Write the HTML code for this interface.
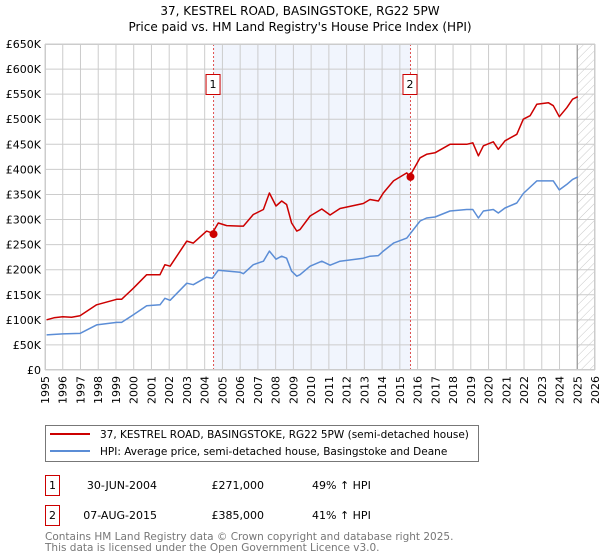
<!DOCTYPE html>
<html><head><meta charset="utf-8"><style>
body{margin:0;background:#fff;}
svg{display:block;font-family:"DejaVu Sans","Liberation Sans",sans-serif;}
</style></head><body>
<svg id="chart" width="600" height="560" viewBox="0 0 600 560">
<defs>
<pattern id="hatch" width="6" height="6" patternUnits="userSpaceOnUse" patternTransform="rotate(45)">
<line x1="0" y1="0" x2="0" y2="6" stroke="#c8c8c8" stroke-width="1"/>
</pattern>
</defs>
<text x="300" y="15" text-anchor="middle" font-size="12" fill="#000">37, KESTREL ROAD, BASINGSTOKE, RG22 5PW</text>
<text x="300" y="31" text-anchor="middle" font-size="12" fill="#000">Price paid vs. HM Land Registry's House Price Index (HPI)</text>
<g id="plot"></g>
<g>
<rect x="45.5" y="425.5" width="433" height="36" fill="#fff" stroke="#777"/>
<line x1="50" y1="434" x2="90" y2="434" stroke="#cc0000" stroke-width="2"/>
<text x="100" y="438" font-size="10.5">37, KESTREL ROAD, BASINGSTOKE, RG22 5PW (semi-detached house)</text>
<line x1="50" y1="451" x2="90" y2="451" stroke="#5b8dd6" stroke-width="2"/>
<text x="100" y="455" font-size="10.5">HPI: Average price, semi-detached house, Basingstoke and Deane</text>
</g>
<g font-size="11">
<rect x="45.5" y="475.5" width="14" height="20" fill="#fff" stroke="#cc0000"/>
<text x="52.5" y="489" text-anchor="middle">1</text>
<text x="157" y="489" text-anchor="end">30-JUN-2004</text>
<text x="264" y="489" text-anchor="end">£271,000</text>
<text x="312" y="489">49% ↑ HPI</text>
<rect x="45.5" y="505.5" width="14" height="20" fill="#fff" stroke="#cc0000"/>
<text x="52.5" y="519" text-anchor="middle">2</text>
<text x="157" y="519" text-anchor="end">07-AUG-2015</text>
<text x="264" y="519" text-anchor="end">£385,000</text>
<text x="312" y="519">41% ↑ HPI</text>
</g>
<text x="45" y="540" font-size="10.5" fill="#777">Contains HM Land Registry data © Crown copyright and database right 2025.</text>
<text x="45" y="551" font-size="10.5" fill="#777">This data is licensed under the Open Government Licence v3.0.</text>
</svg>
<script>
const yTickValues=[0,50,100,150,200,250,300,350,400,450,500,550,600,650];
const yTickLabels=["£0","£50K","£100K","£150K","£200K","£250K","£300K","£350K","£400K","£450K","£500K","£550K","£600K","£650K"];
const xTickYears=[1995,1996,1997,1998,1999,2000,2001,2002,2003,2004,2005,2006,2007,2008,2009,2010,2011,2012,2013,2014,2015,2016,2017,2018,2019,2020,2021,2022,2023,2024,2025,2026];
const redYears=[1995.09,1995.5,1996.0,1996.5,1996.97,1997.91,1999.04,1999.32,1999.98,2000.73,2001.48,2001.76,2002.05,2002.99,2003.36,2004.11,2004.43,2004.77,2005.24,2005.99,2006.18,2006.74,2007.31,2007.65,2008.02,2008.34,2008.62,2008.9,2009.19,2009.37,2009.94,2010.6,2011.07,2011.63,2012.94,2013.32,2013.79,2014.07,2014.64,2015.39,2015.54,2016.14,2016.51,2016.98,2017.83,2018.77,2019.11,2019.43,2019.71,2020.27,2020.55,2020.93,2021.59,2021.96,2022.34,2022.72,2023.37,2023.65,2023.99,2024.41,2024.74,2025.03];
const redValues=[100,104,106,105,108,130,141,141,163,190,190,210,207,257,253,277,273,293,288,287,287,310,320,353,327,337,330,293,277,280,307,321,309,322,332,340,337,353,377,393,385,423,430,433,450,450,453,427,447,455,440,457,470,500,507,530,533,527,505,523,540,545];
const hpiYears=[1995.09,1996.0,1996.97,1997.91,1999.04,1999.32,1999.98,2000.73,2001.48,2001.76,2002.05,2002.99,2003.36,2004.11,2004.43,2004.77,2005.99,2006.18,2006.74,2007.31,2007.65,2008.02,2008.34,2008.62,2008.9,2009.19,2009.37,2009.94,2010.6,2011.07,2011.63,2012.94,2013.32,2013.79,2014.07,2014.64,2015.39,2016.14,2016.51,2016.98,2017.83,2018.77,2019.11,2019.43,2019.71,2020.27,2020.55,2020.93,2021.59,2021.96,2022.72,2023.37,2023.65,2023.99,2024.41,2024.74,2025.03];
const hpiValues=[70,72,73,90,95,95,110,128,130,143,139,173,170,185,183,199,195,192,210,217,237,221,227,223,197,187,190,207,217,209,217,223,227,228,237,253,263,297,303,305,317,320,320,303,317,320,313,323,333,352,377,377,377,359,370,380,385];
const saleYears=[2004.5,2015.6];
const saleValues=[271,385];
const saleLabels=["1","2"];
const dataEndYear=2025.0;

const X0=45,X1=595,Y0=370,Y1=44;
const xs=y=>X0+(y-1995)/(2026-1995)*(X1-X0);
const ys=v=>Y0-v/650*(Y0-Y1);
const NS="http://www.w3.org/2000/svg";
const plot=document.getElementById('plot');
function mk(tag,attrs,parent){const e=document.createElementNS(NS,tag);for(const k in attrs)e.setAttribute(k,attrs[k]);(parent||plot).appendChild(e);return e;}

const bg=mk('rect',{x:X0,y:Y1,width:X1-X0,height:Y0-Y1,fill:'#fff'});


const shade=mk('rect',{x:xs(saleYears[0]),y:Y1,width:xs(saleYears[1])-xs(saleYears[0]),height:Y0-Y1,fill:'#eef3fd',opacity:0.8});


const hatch=mk('rect',{x:xs(dataEndYear),y:Y1,width:X1-xs(dataEndYear),height:Y0-Y1,fill:'url(#hatch)'});



xTickYears.forEach((yr,i)=>{
  const l=mk('line',{x1:xs(yr),x2:xs(yr),y1:Y1,y2:Y0,stroke:'#cccccc','stroke-width':1});
  
  
  const t=mk('text',{x:0,y:0,'font-size':11,'text-anchor':'end',transform:`translate(${xs(yr)+4},${Y0+6}) rotate(-90)`});
  t.textContent=yr;
  
  
});
yTickValues.forEach((v,i)=>{
  const l=mk('line',{x1:X0,x2:X1,y1:ys(v),y2:ys(v),stroke:'#cccccc','stroke-width':1});
  
  
  const t=mk('text',{x:X0-4,y:ys(v)+4,'font-size':11,'text-anchor':'end'});
  t.textContent=yTickLabels[i];
  
  
});
const endLine=mk('line',{x1:xs(dataEndYear),x2:xs(dataEndYear),y1:Y1,y2:Y0,stroke:'#999','stroke-width':1.2});



saleYears.forEach((yr,i)=>{
  const l=mk('line',{x1:xs(yr),x2:xs(yr),y1:Y1,y2:Y0,stroke:'#e05050','stroke-width':1,'stroke-dasharray':'2,2'});
  
  
});

function pathFrom(xa,va){return xa.map((yr,i)=>(i?'L':'M')+xs(yr).toFixed(1)+','+ys(va[i]).toFixed(1)).join(' ');}
const hpi=mk('path',{d:pathFrom(hpiYears,hpiValues),fill:'none',stroke:'#5b8dd6','stroke-width':1.5,'stroke-linejoin':'round'});


const red=mk('path',{d:pathFrom(redYears,redValues),fill:'none',stroke:'#cc0000','stroke-width':1.5,'stroke-linejoin':'round'});



saleYears.forEach((yr,i)=>{
  const c=mk('circle',{cx:xs(yr),cy:ys(saleValues[i]),r:4,fill:'#cc0000'});
  
  
  const b=mk('rect',{x:xs(yr)-7.5,y:74.5,width:14,height:20,fill:'#fff',stroke:'#cc0000'});
  
  
  const t=mk('text',{x:xs(yr)-0.5,y:88,'font-size':11,'text-anchor':'middle'});
  t.textContent=saleLabels[i];
  
  
});
const frame=mk('rect',{x:X0+0.5,y:Y1+0.5,width:X1-X0-1,height:Y0-Y1-1,fill:'none',stroke:'#cccccc'});


</script>
</body></html>
